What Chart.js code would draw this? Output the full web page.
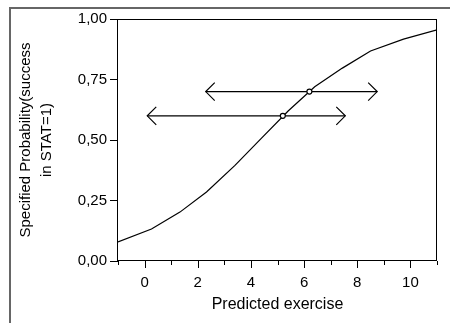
<!DOCTYPE html>
<html>
<head>
<meta charset="utf-8">
<script src="https://cdn.jsdelivr.net/npm/chart.js@4/dist/chart.umd.min.js"></script>
<style>
  html, body { margin: 0; padding: 0; background: #fff; }
  canvas { display: block; }
</style>
</head>
<body>
<canvas id="chart" width="450" height="323"></canvas>
<script>
// curve (vertices of the polyline)
const curveX = [-1, 0.26, 1.33, 2.33, 3.4, 4.4, 5.4, 6.4, 7.44, 8.5, 9.74, 11];
const curveP = [0.079, 0.132, 0.202, 0.285, 0.395, 0.508, 0.62, 0.72, 0.797, 0.868, 0.917, 0.955];

// circle markers on the curve
const markerX = [5.2, 6.2];
const markerP = [0.6, 0.7];

// double arrows
const arrowFrom = [0.1, 2.3];
const arrowTo = [7.55, 8.75];
const arrowP = [0.6, 0.7];

const xTickValues = [0, 2, 4, 6, 8, 10];
const yTitle = ["Specified Probability(success", "in STAT=1)"];
const xTitle = "Predicted exercise";

const FONT = "'Liberation Sans', Arial, sans-serif";

const toXY = (xs, ys) => xs.map((x, i) => ({ x: x, y: ys[i] }));

const arrowSets = arrowP.map((p, i) => ({
  type: "line",
  arrow: true,
  data: [{ x: arrowFrom[i], y: p }, { x: arrowTo[i], y: p }],
  borderColor: "#000",
  borderWidth: 1.2,
  pointRadius: 0,
  fill: false,
}));

// outer frame, plot box, x ticks and arrow heads
const extrasPlugin = {
  id: "extras",
  beforeDraw(chart) {
    const ctx = chart.ctx;
    ctx.save();
    ctx.fillStyle = "#fff";
    ctx.fillRect(0, 0, chart.width, chart.height);
    ctx.strokeStyle = "#666";
    ctx.lineWidth = 2;
    ctx.beginPath();
    ctx.moveTo(10, chart.height);
    ctx.lineTo(10, 8);
    ctx.lineTo(chart.width, 8);
    ctx.stroke();
    ctx.restore();
  },
  afterDraw(chart) {
    const { ctx, chartArea: a } = chart;
    const x = chart.scales.x;
    ctx.save();
    ctx.strokeStyle = "#000";
    ctx.lineWidth = 1;
    ctx.strokeRect(Math.round(a.left) - 0.5, Math.round(a.top) + 0.5,
      Math.round(a.right - a.left), Math.round(a.bottom - a.top) - 1);

    for (let v = x.min; v <= x.max; v++) {
      const px = Math.round(x.getPixelForValue(v)) + 0.5;
      const len = v % 2 === 0 ? 7 : 4;
      ctx.beginPath();
      ctx.moveTo(px, a.bottom);
      ctx.lineTo(px, a.bottom + len);
      ctx.stroke();
    }

    ctx.lineWidth = 1.2;
    chart.data.datasets.forEach((ds, i) => {
      if (!ds.arrow) return;
      const pts = chart.getDatasetMeta(i).data;
      const l = pts[0], r = pts[1];
      ctx.beginPath();
      ctx.moveTo(l.x + 9, l.y - 9);
      ctx.lineTo(l.x, l.y);
      ctx.lineTo(l.x + 9, l.y + 9);
      ctx.moveTo(r.x - 9, r.y - 9);
      ctx.lineTo(r.x, r.y);
      ctx.lineTo(r.x - 9, r.y + 9);
      ctx.stroke();
    });
    ctx.restore();
  },
};

new Chart(document.getElementById("chart"), {
  type: "scatter",
  data: {
    datasets: [
      {
        data: toXY(markerX, markerP),
        pointRadius: 2.5,
        pointBackgroundColor: "#fff",
        pointBorderColor: "#000",
        pointBorderWidth: 1.2,
      },
      ...arrowSets,
      {
        type: "line",
        data: toXY(curveX, curveP),
        borderColor: "#000",
        borderWidth: 1.2,
        pointRadius: 0,
        tension: 0,
        fill: false,
      },
    ],
  },
  options: {
    responsive: false,
    animation: false,
    devicePixelRatio: 1,
    layout: { padding: { top: 19, right: 8, left: 0, bottom: 0 } },
    plugins: {
      legend: { display: false },
      tooltip: { enabled: false },
    },
    scales: {
      x: {
        type: "linear",
        min: -1,
        max: 11,
        afterFit: (s) => { s.height = 62; },
        grid: { display: false, drawTicks: false },
        border: { display: false },
        ticks: {
          stepSize: 1,
          autoSkip: false,
          maxRotation: 0,
          padding: 13,
          color: "#000",
          font: { family: FONT, size: 15 },
          callback: (v) => (xTickValues.includes(v) ? String(v) : ""),
        },
        title: {
          display: true,
          text: xTitle,
          color: "#000",
          font: { family: FONT, size: 16, lineHeight: 1.2 },
          padding: { top: 4, bottom: 9 },
        },
      },
      y: {
        min: 0,
        max: 1,
        afterFit: (s) => { s.width = 118; },
        grid: { drawOnChartArea: false, drawTicks: true, tickLength: 8, color: "#000" },
        border: { display: false },
        ticks: {
          stepSize: 0.25,
          padding: 3,
          color: "#000",
          font: { family: FONT, size: 15 },
          callback: (v) => v.toFixed(2).replace(".", ","),
        },
        title: {
          display: true,
          text: yTitle,
          color: "#000",
          font: { family: FONT, size: 15, lineHeight: 1.4 },
          padding: { top: 15.5, bottom: 0 },
        },
      },
    },
  },
  plugins: [extrasPlugin],
});
</script>
</body>
</html>
